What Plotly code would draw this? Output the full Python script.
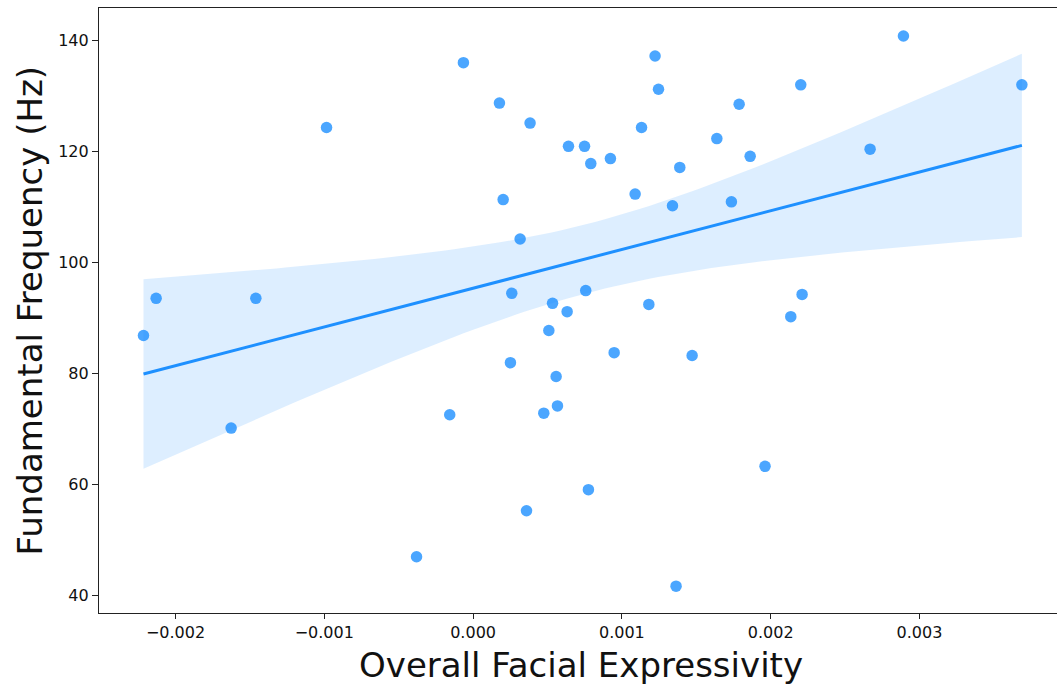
import numpy as np
import plotly.graph_objects as go

# Overall facial expressivity (x) and fundamental frequency in Hz (y)
expressivity = [
    -0.000065, 0.000177, 0.000383, 0.000641, -0.000985, 0.000202, 0.000316,
    -0.00213, -0.00146, 0.000260, 0.000534, 0.000632,
    0.002892, 0.001223, 0.001246, 0.002202, 0.003688, 0.001788, 0.001132,
    0.001638, 0.000749, 0.000791, 0.000923, 0.001862, 0.001389, 0.002668,
    0.001089, 0.001340, 0.001736, 0.000757, 0.001181, 0.002211, 0.002135,
    -0.002215, 0.000509, 0.000251, 0.000558, 0.000567, 0.000475, -0.000157,
    -0.001626, 0.000359, -0.000380,
    0.000948, 0.001472, 0.001962, 0.000775, 0.001364,
]
frequency = [
    136.0, 128.7, 125.1, 120.9, 124.3, 111.3, 104.2,
    93.5, 93.5, 94.4, 92.6, 91.1,
    140.8, 137.2, 131.2, 132.0, 132.0, 128.5, 124.3,
    122.3, 120.9, 117.8, 118.7, 119.1, 117.1, 120.4,
    112.3, 110.2, 110.9, 94.9, 92.4, 94.2, 90.2,
    86.8, 87.7, 81.9, 79.4, 74.1, 72.8, 72.5,
    70.1, 55.2, 46.9,
    83.7, 83.2, 63.2, 59.0, 41.6,
]

x_ticks = [-0.002, -0.001, 0.0, 0.001, 0.002, 0.003]
x_tick_labels = ["\u22120.002", "\u22120.001", "0.000", "0.001", "0.002", "0.003"]
y_ticks = [40, 60, 80, 100, 120, 140]

x_title = "Overall Facial Expressivity"
y_title = "Fundamental Frequency (Hz)"

# ---- regression fit with confidence band (approximating seaborn's bootstrap band) ----
xa = np.array(expressivity)
ya = np.array(frequency)
n = len(xa)
slope, intercept = np.polyfit(xa, ya, 1)
grid = np.linspace(xa.min(), xa.max(), 100)
fit = intercept + slope * grid
resid = ya - (intercept + slope * xa)
s = np.sqrt(np.sum(resid ** 2) / (n - 2))
sxx = np.sum((xa - xa.mean()) ** 2)
band_factor = 1.76  # bootstrap band in the picture is a bit narrower than the t-based one
half = band_factor * s * np.sqrt(1.0 / n + (grid - xa.mean()) ** 2 / sxx)
lower = fit - half
upper = fit + half

line_color = "rgb(30,144,255)"
point_color = "rgba(30,144,255,0.8)"
band_color = "rgba(30,144,255,0.15)"

fig = go.Figure()
fig.add_trace(go.Scatter(
    x=expressivity, y=frequency, mode="markers",
    marker=dict(size=11.5, color=point_color, line=dict(width=0)),
    showlegend=False, hoverinfo="skip",
))
fig.add_trace(go.Scatter(
    x=grid, y=lower, mode="lines", line=dict(width=0),
    showlegend=False, hoverinfo="skip",
))
fig.add_trace(go.Scatter(
    x=grid, y=upper, mode="lines", line=dict(width=0),
    fill="tonexty", fillcolor=band_color,
    showlegend=False, hoverinfo="skip",
))
fig.add_trace(go.Scatter(
    x=grid, y=fit, mode="lines", line=dict(width=3, color=line_color),
    showlegend=False, hoverinfo="skip",
))

font_family = "DejaVu Sans"
fig.update_layout(
    width=1057, height=685,
    margin=dict(l=99, r=0, t=8, b=72, pad=0),
    paper_bgcolor="white", plot_bgcolor="white",
    font=dict(family=font_family, color="#111111"),
    xaxis=dict(
        range=[-0.002514, 0.003924],
        tickvals=x_ticks, ticktext=x_tick_labels,
        showgrid=False, zeroline=False,
        showline=True, linecolor="#222222", linewidth=1.2, mirror=True,
        ticks="outside", ticklen=5, tickwidth=1.2, tickcolor="#222222",
        tickfont=dict(size=16, family=font_family, color="#111111"),
    ),
    yaxis=dict(
        range=[36.76, 145.85],
        tickvals=y_ticks,
        showgrid=False, zeroline=False,
        showline=True, linecolor="#222222", linewidth=1.2, mirror=False,
        ticks="outside", ticklen=6, tickwidth=1.2, tickcolor="#222222",
        tickfont=dict(size=16, family=font_family, color="#111111"),
    ),
    annotations=[
        dict(text=x_title, xref="paper", yref="paper", x=0.503, y=0,
             xanchor="center", yanchor="top", yshift=-30, showarrow=False,
             font=dict(size=34, family=font_family, color="#111111")),
        dict(text=y_title, xref="paper", yref="paper", x=0, y=0.5,
             xanchor="right", yanchor="middle", xshift=-48, textangle=-90,
             showarrow=False,
             font=dict(size=34, family=font_family, color="#111111")),
    ],
)

fig.write_html("out.html")
